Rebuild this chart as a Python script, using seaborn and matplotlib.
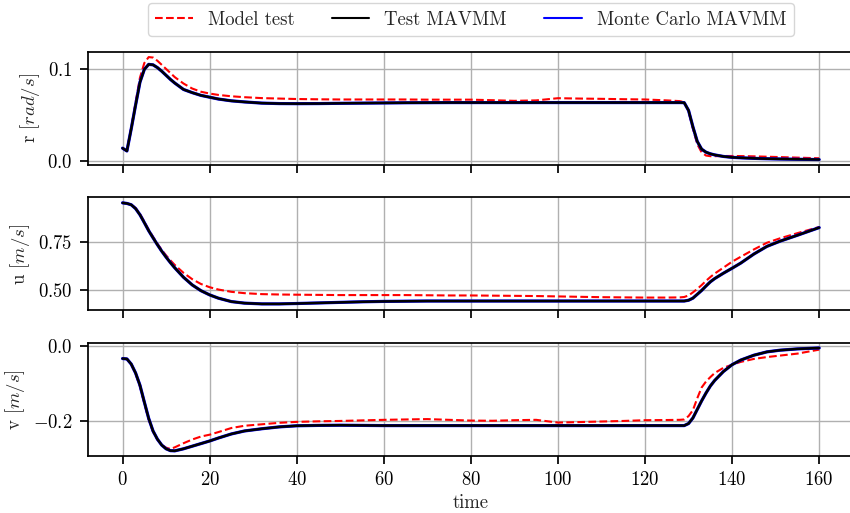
import numpy as np
import pandas as pd
import matplotlib
matplotlib.use("Agg")
import matplotlib.pyplot as plt
import seaborn as sns

# Sample times (s) shared by every trace
time = [0, 1, 2, 3, 4, 5, 6, 7, 8, 9, 10, 11, 12, 14, 16, 18, 20, 22, 25, 28,
        32, 36, 40, 45, 50, 55, 60, 65, 70, 75, 80, 85, 90, 95, 100, 105, 110,
        115, 120, 125, 128, 129, 130, 131, 132, 133, 134, 135, 136, 138, 140,
        142, 145, 148, 151, 155, 160]

# Yaw rate r [rad/s]
model_r = [0.0136, 0.0105, 0.036, 0.064, 0.091, 0.107, 0.1135, 0.113, 0.1095,
           0.105, 0.1005, 0.096, 0.0915, 0.0845, 0.079, 0.0755, 0.0735, 0.072,
           0.0705, 0.0695, 0.0685, 0.068, 0.0675, 0.0672, 0.067, 0.067, 0.067,
           0.067, 0.0668, 0.0668, 0.0668, 0.0662, 0.0655, 0.066, 0.0684, 0.068,
           0.0677, 0.0673, 0.067, 0.066, 0.0652, 0.064, 0.054, 0.035, 0.018,
           0.009, 0.0055, 0.0048, 0.0048, 0.005, 0.005, 0.0049, 0.0046, 0.0042,
           0.0038, 0.0032, 0.0025]
test_r = [0.0136, 0.0105, 0.035, 0.061, 0.086, 0.100, 0.1055, 0.105, 0.102,
          0.098, 0.0935, 0.089, 0.085, 0.078, 0.0745, 0.0715, 0.0695, 0.0675,
          0.0655, 0.0643, 0.063, 0.0625, 0.0624, 0.0625, 0.0628, 0.063, 0.0632,
          0.0634, 0.0635, 0.0636, 0.0636, 0.0636, 0.0636, 0.0636, 0.0636, 0.0636,
          0.0636, 0.0636, 0.0636, 0.0636, 0.0636, 0.0635, 0.055, 0.037, 0.021,
          0.0125, 0.0092, 0.0074, 0.0062, 0.0045, 0.0035, 0.003, 0.0024, 0.002,
          0.0017, 0.0014, 0.0011]

# Surge speed u [m/s]
model_u = [0.955, 0.952, 0.946, 0.928, 0.897, 0.857, 0.815, 0.778, 0.742, 0.710,
           0.681, 0.655, 0.631, 0.590, 0.557, 0.532, 0.515, 0.503, 0.491, 0.484,
           0.479, 0.477, 0.476, 0.475, 0.474, 0.474, 0.474, 0.474, 0.473, 0.472,
           0.472, 0.471, 0.470, 0.469, 0.467, 0.465, 0.463, 0.462, 0.461, 0.461,
           0.462, 0.464, 0.472, 0.488, 0.506, 0.526, 0.548, 0.568, 0.586, 0.617,
           0.648, 0.674, 0.712, 0.747, 0.770, 0.797, 0.829]
test_u = [0.955, 0.952, 0.945, 0.925, 0.893, 0.852, 0.810, 0.773, 0.737, 0.703,
          0.672, 0.643, 0.616, 0.567, 0.527, 0.497, 0.475, 0.458, 0.440, 0.432,
          0.428, 0.428, 0.430, 0.433, 0.436, 0.439, 0.441, 0.442, 0.443, 0.443,
          0.443, 0.443, 0.443, 0.443, 0.443, 0.443, 0.443, 0.443, 0.443, 0.443,
          0.443, 0.443, 0.447, 0.458, 0.478, 0.498, 0.521, 0.543, 0.560, 0.588,
          0.614, 0.641, 0.688, 0.728, 0.755, 0.786, 0.826]

# Sway speed v [m/s]
model_v = [-0.033, -0.034, -0.049, -0.074, -0.108, -0.153, -0.197, -0.230,
           -0.251, -0.265, -0.273, -0.2765, -0.272, -0.261, -0.251, -0.243,
           -0.238, -0.231, -0.220, -0.214, -0.210, -0.206, -0.2035, -0.202,
           -0.201, -0.1995, -0.198, -0.197, -0.196, -0.198, -0.200, -0.2005,
           -0.199, -0.198, -0.2054, -0.204, -0.2025, -0.201, -0.199, -0.1985,
           -0.198, -0.197, -0.188, -0.172, -0.140, -0.111, -0.095, -0.083,
           -0.072, -0.058, -0.0495, -0.042, -0.034, -0.029, -0.025, -0.0197,
           -0.009]
test_v = [-0.033, -0.034, -0.048, -0.072, -0.105, -0.150, -0.194, -0.228,
          -0.250, -0.266, -0.276, -0.281, -0.2815, -0.276, -0.269, -0.262,
          -0.255, -0.247, -0.236, -0.228, -0.222, -0.217, -0.214, -0.213,
          -0.2125, -0.213, -0.2135, -0.2135, -0.2135, -0.2135, -0.2135, -0.2135,
          -0.2135, -0.2135, -0.2135, -0.2135, -0.2135, -0.2135, -0.2135, -0.2135,
          -0.2135, -0.2135, -0.208, -0.193, -0.170, -0.147, -0.126, -0.107,
          -0.092, -0.068, -0.0495, -0.037, -0.024, -0.015, -0.0105, -0.007,
          -0.0045]

# Monte Carlo mean of the MAVMM runs coincides with the test MAVMM trace
mc_r = list(test_r)
mc_u = list(test_u)
mc_v = list(test_v)

labels = ["Model test", "Test MAVMM", "Monte Carlo MAVMM"]
ylabels = ["r [$rad/s$]", "u [$m/s$]", "v [$m/s$]"]
yticks = [[0.0, 0.1], [0.5, 0.75], [-0.2, 0.0]]
ylims = [(-0.0047, 0.1194), (0.394, 0.984), (-0.2954, 0.0092)]

sns.set_theme(style="ticks")
plt.rcParams.update({
    "font.family": ["cmr10"],
    "mathtext.fontset": "cm",
    "axes.formatter.use_mathtext": True,
    "axes.unicode_minus": True,
    "font.size": 13.5,
    "axes.labelsize": 13.5,
    "xtick.labelsize": 13.5,
    "ytick.labelsize": 13.5,
    "legend.fontsize": 13.5,
    "axes.linewidth": 1.25,
    "axes.edgecolor": "black",
    "xtick.color": "black",
    "ytick.color": "black",
    "xtick.major.size": 5.5,
    "ytick.major.size": 5.5,
    "xtick.major.width": 1.25,
    "ytick.major.width": 1.25,
    "xtick.major.pad": 5.5,
    "ytick.major.pad": 5.5,
})

fig, axes = plt.subplots(3, 1, figsize=(8.5, 5.13), dpi=100, sharex=True)
fig.subplots_adjust(left=0.1032, right=1.0047, top=0.8992, bottom=0.1111,
                    hspace=0.287)

series = [(model_r, test_r, mc_r), (model_u, test_u, mc_u), (model_v, test_v, mc_v)]

for ax, (mod, tst, mc), ylab, yt, yl in zip(axes, series, ylabels, yticks, ylims):
    df = pd.DataFrame({"time": time, "model": mod, "test": tst, "mc": mc})
    sns.lineplot(data=df, x="time", y="model", ax=ax, color="red",
                 linestyle="--", linewidth=1.5, label=labels[0], zorder=2)
    sns.lineplot(data=df, x="time", y="test", ax=ax, color="black",
                 linewidth=1.8, label=labels[1], zorder=4)
    sns.lineplot(data=df, x="time", y="mc", ax=ax, color="blue",
                 linewidth=2.3, label=labels[2], zorder=3)
    ax.set_ylabel(ylab)
    ax.set_yticks(yt)
    ax.set_ylim(*yl)
    ax.set_xlim(-8, 168)
    ax.set_xticks(np.arange(0, 161, 20))
    ax.grid(True, color="#b0b0b0", linewidth=1.0)
    ax.set_axisbelow(True)
    for s in ax.spines.values():
        s.set_visible(True)
        s.set_color("black")
    ax.get_legend().remove()

axes[-1].set_xlabel("time", labelpad=3.5)
axes[0].set_xlabel("")
axes[1].set_xlabel("")

handles, labs = axes[0].get_legend_handles_labels()
leg = fig.legend(handles, labs, loc="lower center", bbox_to_anchor=(0.554, 0.9298),
                 ncol=3, borderaxespad=0, frameon=True, fancybox=True,
                 edgecolor="#cccccc", framealpha=0.8)
for line in leg.get_lines():
    line.set_linewidth(1.5)

fig.savefig("out.png", dpi=100)
